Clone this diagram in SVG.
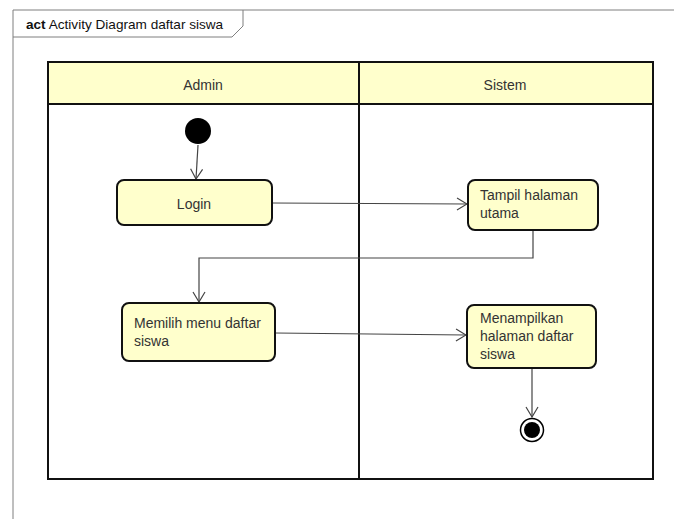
<svg xmlns="http://www.w3.org/2000/svg" width="674" height="519" viewBox="0 0 674 519">
<defs>
<style>
.frame{fill:none;stroke:#7f7f7f;stroke-width:1}
.lane{fill:none;stroke:#111;stroke-width:2}
.hdr{fill:#ffffcc;stroke:#111;stroke-width:2}
.act{fill:#ffffcc;stroke:#111;stroke-width:2}
.t{font-family:"Liberation Sans",Arial,sans-serif;font-size:14px;fill:#333}
.c{fill:none;stroke:#444;stroke-width:1.2;marker-end:url(#arr)}
</style>
<marker id="arr" markerWidth="12" markerHeight="14" refX="11" refY="7" orient="auto" markerUnits="userSpaceOnUse">
<path d="M1,1 L11,7 L1,13" fill="none" stroke="#444" stroke-width="1.2"/>
</marker>
</defs>
<rect width="674" height="519" fill="#fff"/>
<g id="frame">
<path class="frame" d="M13,519 V10 H674"/>
<path class="frame" d="M13,37 H232 L243,26 V10"/>
<text x="26" y="29" font-family="'Liberation Sans',Arial,sans-serif" font-size="13.6" fill="#111"><tspan font-weight="bold">act</tspan> Activity Diagram daftar siswa</text>
</g>
<g id="lanes">
<rect class="hdr" x="48" y="62" width="311" height="42"/>
<rect class="hdr" x="359" y="62" width="294" height="42"/>
<rect class="lane" x="48" y="62" width="605" height="417"/>
<line class="lane" x1="359" y1="62" x2="359" y2="479"/>
<text class="t" x="203" y="90" text-anchor="middle">Admin</text>
<text class="t" x="505" y="90" text-anchor="middle">Sistem</text>
</g>
<g id="connectors">
<path class="c" d="M198,145 L196,179"/>
<path class="c" d="M272,203 L467,204"/>
<path class="c" d="M533,230 V258 H199 V302"/>
<path class="c" d="M275,333 L466,335"/>
<path class="c" d="M532,368 V417"/>
</g>
<g id="start"><circle cx="198" cy="131" r="13" fill="#000"/></g>
<g id="login">
<rect class="act" x="117" y="180" width="155" height="45" rx="7"/>
<text class="t" x="194" y="209" text-anchor="middle">Login</text>
</g>
<g id="tampil">
<rect class="act" x="468" y="180" width="130" height="50" rx="7"/>
<text class="t" x="480" y="200">Tampil halaman</text>
<text class="t" x="480" y="218">utama</text>
</g>
<g id="memilih">
<rect class="act" x="122" y="303" width="153" height="58" rx="7"/>
<text class="t" x="134" y="328">Memilih menu daftar</text>
<text class="t" x="134" y="346">siswa</text>
</g>
<g id="menampilkan">
<rect class="act" x="467" y="305" width="129" height="63" rx="7"/>
<text class="t" x="480" y="323">Menampilkan</text>
<text class="t" x="480" y="341">halaman daftar</text>
<text class="t" x="480" y="359">siswa</text>
</g>
<g id="end">
<circle cx="532" cy="430" r="11.5" fill="#fff" stroke="#000" stroke-width="1.5"/>
<circle cx="532" cy="430" r="8" fill="#000"/>
</g>
</svg>
